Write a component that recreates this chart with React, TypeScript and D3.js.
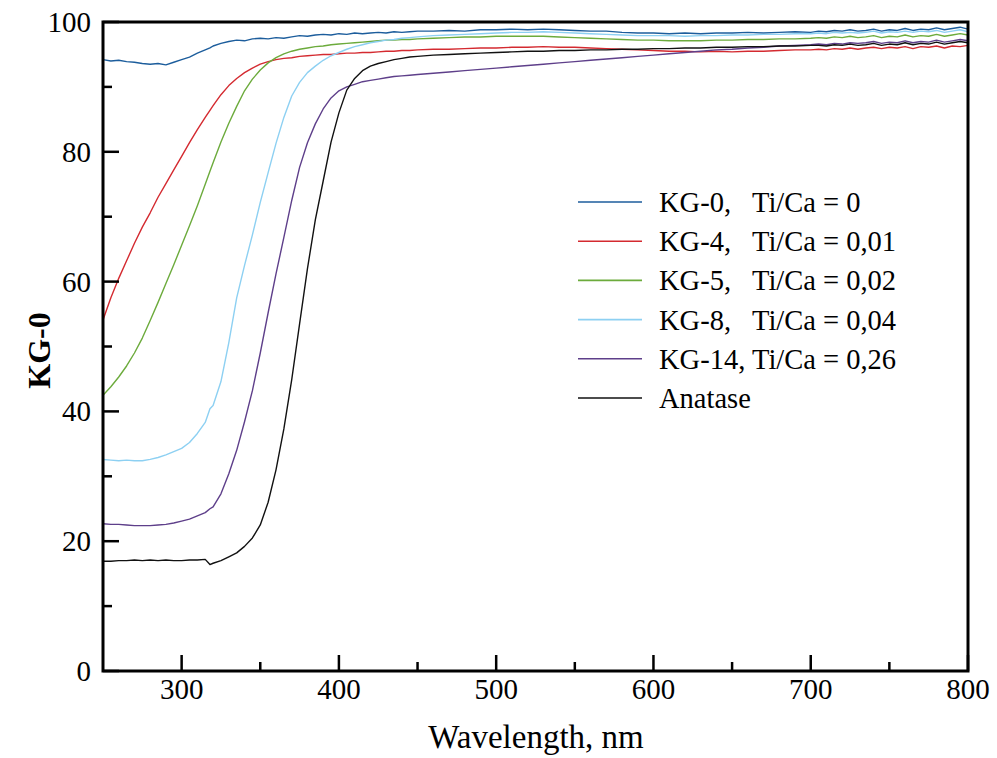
import React from "react";
import * as d3 from "d3";

// Shared wavelength grid, nm
const wavelengths = [
  250, 255, 260, 265, 270, 275, 280, 285, 290, 295, 300, 305, 310, 315, 318,
  320, 325, 330, 335, 340, 345, 350, 355, 360, 365, 370, 375, 380, 385, 390,
  395, 400, 405, 410, 415, 420, 425, 430, 435, 440, 445, 450,
  460, 470, 480, 490, 500, 510, 520, 530, 540, 550, 560, 570, 580, 590, 600,
  610, 620, 630, 640, 650, 660, 670, 680, 690, 700,
  705, 710, 715, 720, 725, 730, 735, 740, 745, 750, 755, 760, 765, 770, 775,
  780, 785, 790, 795, 800,
];

const kg0 = [
  94.2, 94.0, 94.1, 93.9, 93.8, 93.6, 93.5, 93.6, 93.4, 93.8, 94.2, 94.6, 95.2, 95.7, 96.0,
  96.3, 96.7, 97.0, 97.2, 97.1, 97.4, 97.5, 97.4, 97.6, 97.5, 97.7, 97.9, 97.8, 98.0, 98.1,
  98.0, 98.2, 98.1, 98.3, 98.2, 98.3, 98.4, 98.3, 98.5, 98.4, 98.5, 98.6,
  98.6, 98.7, 98.6, 98.8, 98.8, 98.9, 98.8, 98.9, 98.8, 98.7, 98.6, 98.6, 98.4, 98.3, 98.3,
  98.2, 98.3, 98.2, 98.3, 98.3, 98.4, 98.3, 98.4, 98.5, 98.4,
  98.6, 98.5, 98.7, 98.6, 98.8, 98.6, 98.7, 98.9, 98.6, 98.8, 98.7, 99.0, 98.7, 98.9, 98.8,
  99.1, 98.8, 99.0, 99.2, 98.9,
];

const kg4 = [
  54.1, 57.5, 60.5, 63.2, 65.9, 68.4, 70.6, 73.0, 75.1, 77.2, 79.3, 81.4, 83.4, 85.3, 86.4,
  87.1, 88.8, 90.2, 91.3, 92.2, 92.9, 93.5, 93.9, 94.2, 94.4, 94.5, 94.7, 94.8, 94.9, 95.0,
  95.0, 95.1, 95.2, 95.2, 95.3, 95.3, 95.4, 95.5, 95.5, 95.6, 95.6, 95.7,
  95.8, 95.8, 95.9, 96.0, 96.0, 96.1, 96.1, 96.2, 96.1, 96.1, 96.0, 95.9, 95.8, 95.7, 95.6,
  95.5, 95.5, 95.4, 95.5, 95.4, 95.5, 95.5, 95.6, 95.7, 95.7,
  95.8, 95.7, 95.9, 95.8, 96.0, 95.8, 96.0, 96.1, 95.9, 96.1, 96.0, 96.2, 95.9, 96.2, 96.1,
  96.3, 96.0, 96.3, 96.2, 96.4,
];

const kg5 = [
  42.5, 43.8, 45.3, 47.0, 49.0, 51.3, 54.0, 56.8, 59.7, 62.6, 65.6, 68.6, 71.7, 75.0, 77.0,
  78.3, 81.5, 84.4, 87.0, 89.4, 91.2, 92.6, 93.7, 94.5, 95.1, 95.5, 95.8, 96.0, 96.2, 96.3,
  96.5, 96.6, 96.7, 96.8, 96.9, 97.0, 97.1, 97.2, 97.2, 97.3, 97.3, 97.4,
  97.5, 97.6, 97.7, 97.7, 97.8, 97.8, 97.8, 97.8, 97.7, 97.6, 97.5, 97.4, 97.3, 97.2, 97.2,
  97.1, 97.1, 97.1, 97.2, 97.2, 97.3, 97.3, 97.4, 97.4, 97.5,
  97.6, 97.5, 97.7, 97.6, 97.8, 97.6, 97.7, 97.9, 97.6, 97.8, 97.7, 98.0, 97.7, 97.9, 97.8,
  98.1, 97.8, 98.0, 98.2, 98.0,
];

const kg8 = [
  32.6, 32.5, 32.4, 32.5, 32.4, 32.4, 32.6, 32.9, 33.3, 33.8, 34.3, 35.2, 36.6, 38.3, 40.4,
  40.9, 44.6, 50.6, 57.5, 62.5, 67.2, 72.2, 76.8, 81.3, 85.3, 88.6, 90.7, 92.2, 93.2, 94.1,
  94.8, 95.3, 95.8, 96.2, 96.5, 96.8, 97.0, 97.2, 97.3, 97.5, 97.6, 97.7,
  97.9, 98.0, 98.1, 98.2, 98.3, 98.4, 98.4, 98.5, 98.4, 98.3, 98.2, 98.1, 98.0, 97.9, 97.9,
  97.9, 97.8, 97.9, 97.9, 98.0, 98.0, 98.1, 98.1, 98.2, 98.2,
  98.3, 98.2, 98.4, 98.3, 98.4, 98.3, 98.4, 98.6, 98.3, 98.5, 98.4, 98.6, 98.4, 98.6, 98.5,
  98.7, 98.4, 98.6, 98.8, 98.5,
];

const kg14 = [
  22.7, 22.6, 22.6, 22.5, 22.4, 22.4, 22.4, 22.5, 22.6, 22.8, 23.1, 23.4, 23.9, 24.4, 25.0,
  25.3, 27.3, 30.4, 34.0, 38.4, 43.2, 49.0, 55.2, 61.2, 66.8, 72.5, 77.6, 81.4, 84.3, 86.6,
  88.3, 89.4, 90.0, 90.4, 90.8, 91.0, 91.2, 91.4, 91.6, 91.7, 91.8, 91.9,
  92.1, 92.3, 92.5, 92.7, 92.9, 93.1, 93.3, 93.5, 93.7, 93.9, 94.1, 94.3, 94.5, 94.7, 94.9,
  95.1, 95.3, 95.5, 95.7, 95.8, 96.0, 96.1, 96.3, 96.4, 96.5,
  96.6, 96.5, 96.7, 96.6, 96.8, 96.7, 96.8, 97.0, 96.7, 96.9, 96.8, 97.1, 96.8, 97.0, 96.9,
  97.2, 96.9, 97.1, 97.3, 97.1,
];

const anatase = [
  16.9, 16.9, 17.0, 17.0, 17.1, 17.0, 17.1, 17.0, 17.1, 17.0, 17.0, 17.1, 17.1, 17.2, 16.4,
  16.6, 17.0, 17.6, 18.2, 19.2, 20.5, 22.5, 26.0, 31.0, 37.3, 44.9, 53.5, 62.0, 69.5, 75.5,
  81.5, 86.0, 89.5, 91.3, 92.5, 93.2, 93.6, 93.9, 94.2, 94.4, 94.6, 94.7,
  94.9, 95.0, 95.1, 95.2, 95.3, 95.4, 95.5, 95.5, 95.6, 95.6, 95.7, 95.7, 95.8, 95.8, 95.9,
  95.9, 96.0, 96.0, 96.1, 96.1, 96.2, 96.2, 96.3, 96.3, 96.4,
  96.4, 96.3, 96.5, 96.4, 96.6, 96.4, 96.5, 96.7, 96.4, 96.6, 96.5, 96.8, 96.5, 96.7, 96.6,
  96.9, 96.6, 96.8, 97.0, 96.8,
];

const seriesNames = ["KG-0,", "KG-4,", "KG-5,", "KG-8,", "KG-14,", "Anatase"];
const seriesRatios = ["Ti/Ca = 0", "Ti/Ca = 0,01", "Ti/Ca = 0,02", "Ti/Ca = 0,04", "Ti/Ca = 0,26", ""];
const seriesColors = ["#1c5d9c", "#d42a30", "#6cab3c", "#8dd0f2", "#5e3f8a", "#111111"];
const seriesValues = [kg0, kg4, kg5, kg8, kg14, anatase];

const xMajorTicks = [300, 400, 500, 600, 700, 800];
const xMinorTicks = [350, 450, 550, 650, 750];
const yMajorTicks = [0, 20, 40, 60, 80, 100];
const yMinorTicks = [10, 30, 50, 70, 90];

const W = 997;
const H = 758;
const left = 103;
const right = 968;
const top = 22;
const bottom = 671;
const FONT = "'Liberation Serif', 'Times New Roman', serif";

export default function App() {
  const x = d3.scaleLinear().domain([250, 800]).range([left, right]);
  const y = d3.scaleLinear().domain([0, 100]).range([bottom, top]);

  const line = d3
    .line<number>()
    .x((_, i) => x(wavelengths[i]))
    .y((d) => y(d));

  const legendX0 = 578;
  const legendX1 = 642;
  const legendTextX = 659;
  const legendRatioX = 752;
  const legendY0 = 202;
  const legendStep = 39.2;

  return (
    <svg
      width={W}
      height={H}
      style={{ position: "absolute", left: 0, top: 0, background: "#fff" }}
      fontFamily={FONT}
    >
      <defs>
        <clipPath id="plotClip">
          <rect x={left} y={top} width={right - left} height={bottom - top} />
        </clipPath>
      </defs>

      {/* spectra */}
      <g clipPath="url(#plotClip)" fill="none" strokeWidth={1.4} strokeLinejoin="round">
        {seriesValues.map((vals, i) => (
          <path key={i} d={line(vals) || ""} stroke={seriesColors[i]} />
        ))}
      </g>

      {/* inward ticks */}
      <g stroke="#000" strokeWidth={2.5}>
        {xMajorTicks.map((t) => (
          <line key={"xM" + t} x1={x(t)} x2={x(t)} y1={bottom} y2={bottom - 16} />
        ))}
        {xMinorTicks.map((t) => (
          <line key={"xm" + t} x1={x(t)} x2={x(t)} y1={bottom} y2={bottom - 9} />
        ))}
        {yMajorTicks.map((t) => (
          <line key={"yM" + t} x1={left} x2={left + 16} y1={y(t)} y2={y(t)} />
        ))}
        {yMinorTicks.map((t) => (
          <line key={"ym" + t} x1={left} x2={left + 9} y1={y(t)} y2={y(t)} />
        ))}
      </g>

      {/* frame */}
      <rect
        x={left}
        y={top}
        width={right - left}
        height={bottom - top}
        fill="none"
        stroke="#000"
        strokeWidth={3}
      />

      {/* tick labels */}
      <g fontSize={29} fill="#000">
        {xMajorTicks.map((t) => (
          <text key={"xl" + t} x={x(t)} y={bottom + 28} textAnchor="middle">
            {t}
          </text>
        ))}
        {yMajorTicks.map((t) => (
          <text key={"yl" + t} x={left - 12} y={y(t) + 10} textAnchor="end">
            {t}
          </text>
        ))}
      </g>

      {/* axis titles */}
      <text x={536} y={748} fontSize={33} textAnchor="middle">
        Wavelength, nm
      </text>
      <text
        transform={`translate(50, ${(top + bottom) / 2 + 4}) rotate(-90)`}
        fontSize={32}
        fontWeight="bold"
        textAnchor="middle"
      >
        KG-0
      </text>

      {/* legend */}
      <g fontSize={28.5}>
        {seriesNames.map((name, i) => {
          const ly = legendY0 + i * legendStep;
          return (
            <g key={name}>
              <line
                x1={legendX0}
                x2={legendX1}
                y1={ly}
                y2={ly}
                stroke={seriesColors[i]}
                strokeWidth={1.6}
              />
              <text x={legendTextX} y={ly + 10}>
                {name}
              </text>
              {seriesRatios[i] && (
                <text x={legendRatioX} y={ly + 10}>
                  {seriesRatios[i]}
                </text>
              )}
            </g>
          );
        })}
      </g>
    </svg>
  );
}
